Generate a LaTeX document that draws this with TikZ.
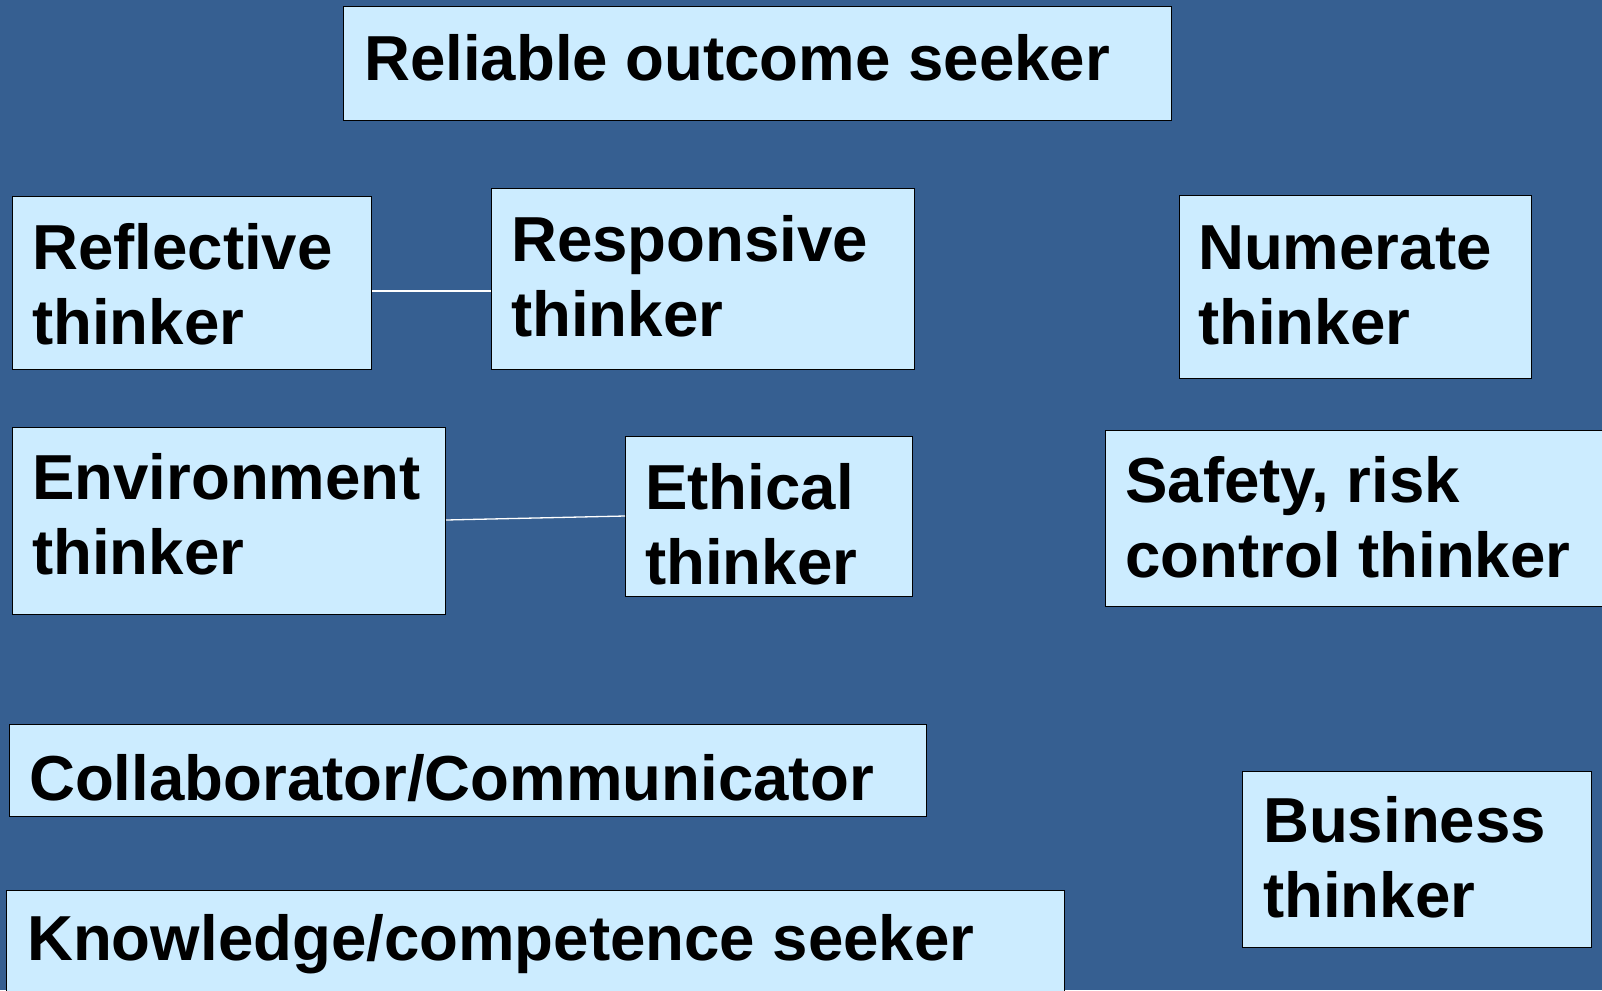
\documentclass[tikz,border=0pt]{standalone}
\usepackage{fontspec}
\setmainfont{Liberation Sans}
\usepackage{tikz}
\usetikzlibrary{positioning}
\definecolor{slide}{HTML}{365F91}
\definecolor{pale}{HTML}{CCECFF}
\tikzset{
  box/.style = {draw=black, fill=pale, line width=1pt, inner sep=0, anchor=north west},
  lbl/.style = {anchor=base west, inner sep=0, align=left, font=\bfseries\fontsize{63.6}{75}\selectfont},
  link/.style = {draw=white, line width=1.3pt}
}
\begin{document}
\begin{tikzpicture}[x=1pt,y=-1pt]
  \fill[slide] (0,0) rectangle (1602,990);
  \useasboundingbox (0,0) rectangle (1602,990);
  \clip (0,0) rectangle (1602,990);
  % boxes
  \node[box, minimum width=828, minimum height=114] (reliable) at (343,6) {};
  \node[box, minimum width=359, minimum height=173] (reflective) at (12,196) {};
  \node[box, minimum width=423, minimum height=181] (responsive) at (491,188) {};
  \node[box, minimum width=352, minimum height=183] (numerate) at (1179,195) {};
  \node[box, minimum width=433, minimum height=187] (environment) at (12,427) {};
  \node[box, minimum width=287, minimum height=160] (ethical) at (625,436) {};
  \node[box, minimum width=520, minimum height=176] (safety) at (1105,430) {};
  \node[box, minimum width=917, minimum height=92] (collab) at (9,724) {};
  \node[box, minimum width=1058, minimum height=110] (knowledge) at (6,890) {};
  \node[box, minimum width=349, minimum height=176] (business) at (1242,771) {};
  % texts (base = last line)
  \node[lbl] (reliabletxt) at (364,80) {Reliable outcome seeker};
  \node[lbl] (reflectivetxt) at (32,344) {Reflective\\thinker};
  \node[lbl] (responsivetxt) at (511,336) {Responsive\\thinker};
  \node[lbl] (numeratetxt) at (1198,344) {Numerate\\thinker};
  \node[lbl] (environmenttxt) at (32,574) {Environment\\thinker};
  \node[lbl] (ethicaltxt) at (645,584) {Ethical\\thinker};
  \node[lbl] (safetytxt) at (1125,577) {Safety, risk\\control thinker};
  \node[lbl] (collabtxt) at (29,800) {Collaborator/Communicator};
  \node[lbl] (knowledgetxt) at (27,960) {Knowledge/competence seeker};
  \node[lbl] (businesstxt) at (1263,917) {Business\\thinker};
  % links
  \draw[link] (reflective.east |- 0,291) -- (responsive.west |- 0,291);
  \draw[link] (environment.east |- 0,520) -- (ethical.west |- 0,516);
\end{tikzpicture}
\end{document}
